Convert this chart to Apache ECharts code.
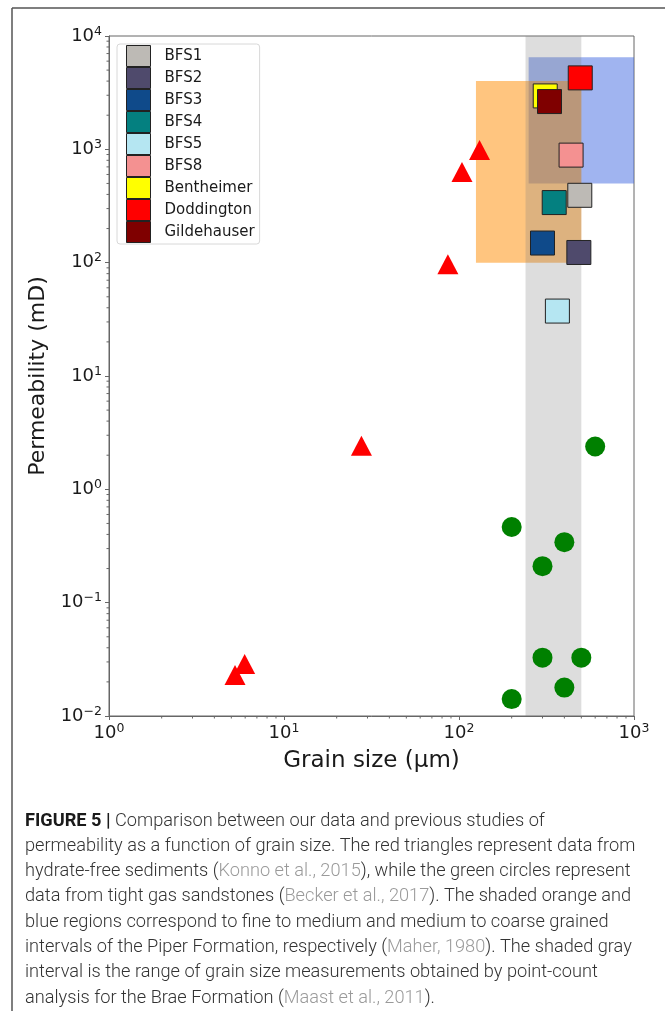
<!DOCTYPE html>
<html><head><meta charset="utf-8">
<script src="https://cdn.jsdelivr.net/npm/echarts@6/dist/echarts.min.js"></script>
<style>html,body{margin:0;padding:0;background:#fff}#c{width:665px;height:1011px}</style>
</head><body><div id="c"></div>
<script>
// ---- data ----
const sampleNames  = ['BFS1','BFS2','BFS3','BFS4','BFS5','BFS8','Bentheimer','Doddington','Gildehauser'];
const sampleColors = ['#bdbab5','#4f4a6c','#0f4a8a','#048080','#b5e6f2','#f49191','#ffff00','#ff0000','#7f0000'];
const sampleGrain  = [490, 484, 300, 350, 365, 437, 311, 493, 329];
const samplePerm   = [393, 123, 149, 339, 37.4, 889, 2960, 4270, 2640];
const konnoGrain   = [131, 104, 86.4, 27.7, 5.96, 5.25];
const konnoPerm    = [987, 631, 97, 2.42, 0.0288, 0.023];
const beckerGrain  = [600, 200, 400, 300, 300, 500, 400, 200];
const beckerPerm   = [2.39, 0.465, 0.342, 0.21, 0.0327, 0.0327, 0.0178, 0.0141];
const braeGrain        = [240, 500];
const braePerm         = [0.01, 10000];
const piperFineGrain   = [125, 500];
const piperFinePerm    = [100, 4000];
const piperCoarseGrain = [250, 1000];
const piperCoarsePerm  = [500, 6500];
const xMinorTicks = [2,3,4,5,6,7,8,9,20,30,40,50,60,70,80,90,200,300,400,500,600,700,800,900];
const yMinorTicks = [0.02,0.03,0.04,0.05,0.06,0.07,0.08,0.09,0.2,0.3,0.4,0.5,0.6,0.7,0.8,0.9,
  2,3,4,5,6,7,8,9,20,30,40,50,60,70,80,90,200,300,400,500,600,700,800,900,2000,3000,4000,5000,6000,7000,8000,9000];
const captionLines = [
  '{b|FIGURE 5 |} Comparison between our data and previous studies of',
  'permeability as a function of grain size. The red triangles represent data from',
  'hydrate-free sediments ({c|Konno et al., 2015}), while the green circles represent',
  'data from tight gas sandstones ({c|Becker et al., 2017}). The shaded orange and',
  'blue regions correspond to fine to medium and medium to coarse grained',
  'intervals of the Piper Formation, respectively ({c|Maher, 1980}). The shaded gray',
  'interval is the range of grain size measurements obtained by point-count',
  'analysis for the Brae Formation ({c|Maast et al., 2011}).'
];

// ---- chart ----
const FONT = 'DejaVu Sans';
const AXC = '#666';
function supFmt(v) {
  const e = Math.round(Math.log10(v));
  return '{b|10}{s|' + (e < 0 ? '\u2212' + (-e) : e) + '}';
}
const labelRich = {
  b: {fontFamily: FONT, fontSize: 18, color: '#1a1a1a', lineHeight: 22},
  s: {fontFamily: FONT, fontSize: 12.5, color: '#1a1a1a', lineHeight: 12, verticalAlign: 'top'}
};
function rectSeries(gx, py, color, z) {
  return {
    type: 'custom', z: z, silent: true, clip: true,
    data: [[gx[0], gx[1], py[0], py[1]]],
    renderItem: function (params, api) {
      const p0 = api.coord([api.value(0), api.value(3)]);
      const p1 = api.coord([api.value(1), api.value(2)]);
      return {type: 'rect', shape: {x: p0[0], y: p0[1], width: p1[0] - p0[0], height: p1[1] - p0[1]},
        style: {fill: color}};
    }
  };
}
const series = [
  rectSeries(piperCoarseGrain, piperCoarsePerm, 'rgba(65,105,225,0.5)', 1),
  rectSeries(piperFineGrain, piperFinePerm, 'rgba(255,140,0,0.5)', 1),
  rectSeries(braeGrain, braePerm, 'rgba(128,128,128,0.27)', 1),
  {
    type: 'scatter', name: 'konno', symbol: 'triangle', symbolSize: [21, 20], z: 3,
    itemStyle: {color: '#ff0000', opacity: 1},
    data: konnoGrain.map((g, i) => [g, konnoPerm[i]])
  },
  {
    type: 'scatter', name: 'becker', symbol: 'circle', symbolSize: 20, z: 3,
    itemStyle: {color: '#008000', opacity: 1},
    data: beckerGrain.map((g, i) => [g, beckerPerm[i]])
  },
  {
    type: 'custom', silent: true, clip: false, z: 5,
    data: xMinorTicks,
    renderItem: function (params, api) {
      const p = api.coord([api.value(0), 0.01]);
      return {type: 'line', shape: {x1: p[0], y1: p[1], x2: p[0], y2: p[1] + 2.5}, style: {stroke: AXC, lineWidth: 1}};
    }
  },
  {
    type: 'custom', silent: true, clip: false, z: 5,
    data: yMinorTicks,
    renderItem: function (params, api) {
      const p = api.coord([1, api.value(0)]);
      return {type: 'line', shape: {x1: p[0] - 2.5, y1: p[1], x2: p[0], y2: p[1]}, style: {stroke: AXC, lineWidth: 1}};
    }
  }
];
sampleNames.forEach((n, i) => {
  series.push({
    type: 'scatter', name: n, symbol: 'rect', symbolSize: 24, z: 4,
    itemStyle: {color: sampleColors[i], borderColor: '#222', borderWidth: 1, opacity: 1},
    data: [[sampleGrain[i], samplePerm[i]]]
  });
});

const graphics = [
  {type: 'line', shape: {x1: 12, y1: 8, x2: 665, y2: 8}, style: {stroke: '#555', lineWidth: 1.5}},
  {type: 'line', shape: {x1: 12, y1: 8, x2: 12, y2: 1011}, style: {stroke: '#555', lineWidth: 1.5}}
];
captionLines.forEach((t, i) => {
  graphics.push({
    type: 'text', x: 25, y: 821 + i * 25.3,
    style: {
      text: t, verticalAlign: 'middle', align: 'left',
      fontFamily: 'Roboto', fontWeight: 300, fontSize: 18.2, fill: '#333',
      rich: {
        b: {fontFamily: 'Roboto', fontWeight: 'bold', fontSize: 18.2, fill: '#1a1a1a'},
        c: {fontFamily: 'Roboto', fontWeight: 300, fontSize: 18.2, fill: '#9a9a9a'}
      }
    }
  });
});

const chart = echarts.init(document.getElementById('c'), null, {renderer: 'canvas'});
chart.setOption({
  animation: false,
  backgroundColor: '#fff',
  grid: {left: 109, top: 36, width: 525, height: 680, show: true, borderColor: AXC, borderWidth: 1, backgroundColor: 'transparent'},
  xAxis: {
    type: 'log', logBase: 10, min: 1, max: 1000,
    name: 'Grain size (\u00b5m)', nameLocation: 'middle', nameGap: 34,
    nameTextStyle: {fontFamily: FONT, fontSize: 23, color: '#1a1a1a'},
    axisLine: {show: true, lineStyle: {color: AXC, width: 1}},
    axisTick: {show: true, length: 4, lineStyle: {color: AXC}},
    splitLine: {show: false},
    axisLabel: {formatter: supFmt, rich: labelRich, margin: 6}
  },
  yAxis: {
    type: 'log', logBase: 10, min: 0.01, max: 10000,
    name: 'Permeability (mD)', nameLocation: 'middle', nameGap: 57, nameRotate: 90,
    nameTextStyle: {fontFamily: FONT, fontSize: 22, color: '#1a1a1a'},
    axisLine: {show: true, lineStyle: {color: AXC, width: 1}},
    axisTick: {show: true, length: 4, lineStyle: {color: AXC}},
    splitLine: {show: false},
    axisLabel: {formatter: supFmt, rich: labelRich, margin: 7}
  },
  legend: {
    data: sampleNames, orient: 'vertical', left: 117, top: 44,
    icon: 'rect', itemWidth: 24, itemHeight: 21, itemGap: 0,
    padding: [1, 5, 1, 9], backgroundColor: '#fff', borderColor: '#d8d8d8', borderWidth: 1, borderRadius: 3,
    selectedMode: false,
    itemStyle: {borderColor: '#222', borderWidth: 1},
    textStyle: {fontFamily: FONT, fontSize: 15, color: '#1a1a1a', lineHeight: 21, padding: [0, 0, 0, 9]}
  },
  series: series,
  graphic: graphics
});
</script></body></html>
